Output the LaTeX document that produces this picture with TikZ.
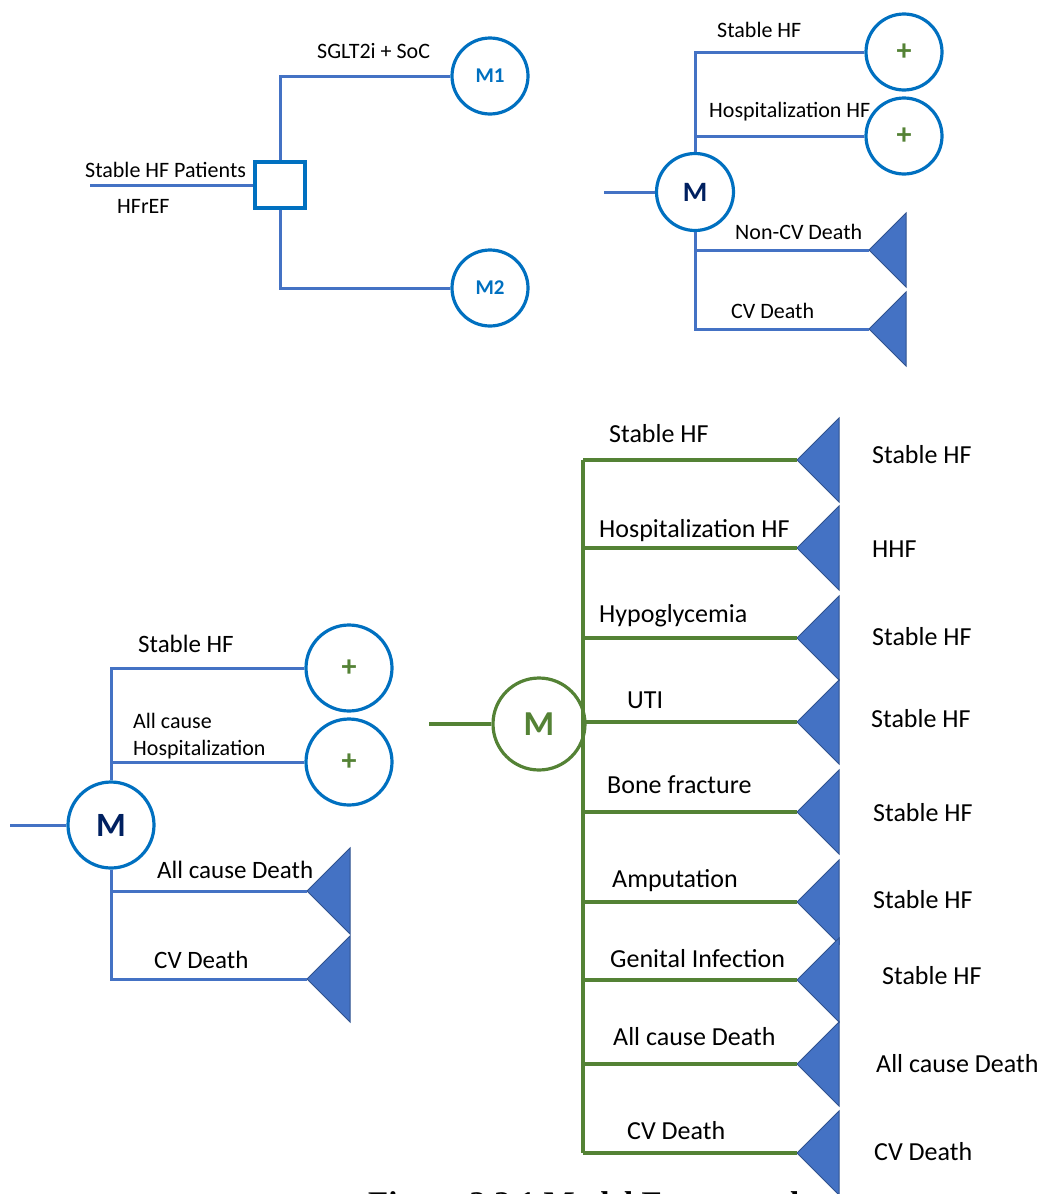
\documentclass[tikz,border=0pt]{standalone}
\usepackage{fontspec}
\setmainfont{Carlito}
\newfontfamily\capfont{Liberation Serif}
\usepackage{tikz}
\usetikzlibrary{calc}
\definecolor{hfblue}{HTML}{4472C4}
\definecolor{hfring}{HTML}{0070C0}
\definecolor{hfnavy}{HTML}{002060}
\definecolor{hfgreen}{HTML}{548235}
\definecolor{hfedge}{HTML}{2F528F}
\newcommand{\drawTerm}[4]{% tip: name, x, y, half height
  \filldraw[fill=hfblue,draw=hfedge,line width=1pt] (#2,#3) -- ++(#4,-#4) -- ++(0,2*#4) -- cycle;
  \coordinate (#1) at (#2,#3);
}

\begin{document}
\begin{tikzpicture}[x=1pt,y=-1pt,
  bline/.style={hfblue,line width=3pt},
  gline/.style={hfgreen,line width=3.2pt},
  ring/.style={circle,draw=hfring,line width=3.2pt,fill=white,inner sep=0pt},
  plusring/.style={ring,text=hfgreen,font=\fontsize{30}{30}\selectfont\bfseries},
  lbl/.style={anchor=base west,inner sep=0pt},
  lbltop/.style={lbl,font=\fontsize{22}{26}\selectfont},
  lblmid/.style={lbl,font=\fontsize{25}{30}\selectfont},
  lblbig/.style={lbl,font=\fontsize{26}{31}\selectfont}]
\clip (0,0) rectangle (1046,1194);

% Decision: SGLT2i + SoC vs M2
\node[draw=hfring,line width=3.2pt,minimum width=50pt,minimum height=46pt,inner sep=0pt] (dec) at (280,185) {};
\coordinate (pin) at (90,185);
\draw[bline] (pin) -- (dec.west);
\node[ring,minimum size=76pt,text=hfring,font=\fontsize{21}{21}\selectfont\bfseries] (M1) at (490,76) {M1};
\node[ring,minimum size=76pt,text=hfring,font=\fontsize{21}{21}\selectfont\bfseries] (M2) at (490,288) {M2};
\draw[bline] (dec.north) |- (M1.west);
\draw[bline] (dec.south) |- (M2.west);
\node[lbltop] (pat) at (85,177) {Stable HF Patients};
\node[lbltop] (ref) at (117,213) {HFrEF};
\node[lbltop] (arm) at (317,58) {SGLT2i + SoC};

% Markov node, top right
\node[ring,minimum size=77pt,text=hfnavy,font=\fontsize{28}{28}\selectfont\bfseries] (MA) at (695,192) {M};
\coordinate (ainA) at (604,192);
\draw[bline] (ainA) -- (MA.west);
\node[plusring,minimum size=76pt] (pA1) at (904,52) {+};
\node[plusring,minimum size=76pt] (pA2) at (904,136) {+};
\draw[bline] (pA1.west) -| (MA.north);
\draw[bline] (pA2.west) -- (pA2.west -| MA.north);
\drawTerm{tA1}{869}{250}{37}
\drawTerm{tA2}{869}{329}{37}
\draw[bline] (tA2) -| (MA.south);
\draw[bline] (tA1) -- (tA1 -| MA.south);
\node[lbltop] (la1) at (717,37) {Stable HF};
\node[lbltop] (la2) at (709,117) {Hospitalization HF};
\node[lbltop] (la3) at (735,239) {Non-CV Death};
\node[lbltop] (la4) at (731,318) {CV Death};

% Markov node, bottom left
\node[ring,minimum size=86pt,text=hfnavy,font=\fontsize{34}{34}\selectfont\bfseries] (MB) at (111,825) {M};
\coordinate (binB) at (10,825);
\draw[bline] (binB) -- (MB.west);
\node[plusring,minimum size=86pt] (pB1) at (349,668) {+};
\node[plusring,minimum size=86pt] (pB2) at (349,762) {+};
\draw[bline] (pB1.west) -| (MB.north);
\draw[bline] (pB2.west) -- (pB2.west -| MB.north);
\drawTerm{tB1}{307}{891}{43}
\drawTerm{tB2}{307}{979}{43}
\draw[bline] (tB2) -| (MB.south);
\draw[bline] (tB1) -- (tB1 -| MB.south);
\node[lblmid] (lb1) at (138,652) {Stable HF};
\node[lbltop] (lb2) at (133,728) {All cause};
\node[lbltop] (lb3) at (133,755) {Hospitalization};
\node[lblmid] (lb4) at (157,878) {All cause Death};
\node[lblmid] (lb5) at (154,968) {CV Death};

% Markov node, green (SGLT2i arm)
\node[ring,draw=hfgreen,minimum size=92pt,text=hfgreen,font=\fontsize{35}{35}\selectfont\bfseries] (MC) at (539,724) {M};
\coordinate (cin) at (429,724);
\draw[gline] (cin) -- (MC.west);
\coordinate (ctop) at (583,460);
\coordinate (cbot) at (583,1153);
\draw[gline] (ctop) -- (cbot);
\foreach \y [count=\i] in {460,548,638,722,812,902,980,1064,1153} {
  \drawTerm{tC\i}{797}{\y}{42}
  \draw[gline] (tC\i -| ctop) -- (tC\i);
}
\foreach \x/\y/\t [count=\i] in {609/442/Stable HF, 599/537/Hospitalization HF,
    599/622/Hypoglycemia, 627/708/UTI, 607/793/Bone fracture, 612/887/Amputation,
    610/967/Genital Infection, 613/1045/All cause Death, 627/1139/CV Death}
  \node[lblbig] (lc\i) at (\x,\y) {\t};
\foreach \x/\y/\t [count=\i] in {872/463/Stable HF, 872/557/HHF, 872/645/Stable HF,
    871/727/Stable HF, 873/821/Stable HF, 873/908/Stable HF, 882/984/Stable HF,
    876/1072/All cause Death, 874/1160/CV Death}
  \node[lblbig] (rc\i) at (\x,\y) {\t};

% Caption (cut off at the bottom, as in the source)
\node[anchor=base west,inner sep=0pt,font=\capfont\bfseries\fontsize{33}{33}\selectfont] (cap) at (368,1214) {Figure 2.2.1 Model Framework};
\end{tikzpicture}
\end{document}
